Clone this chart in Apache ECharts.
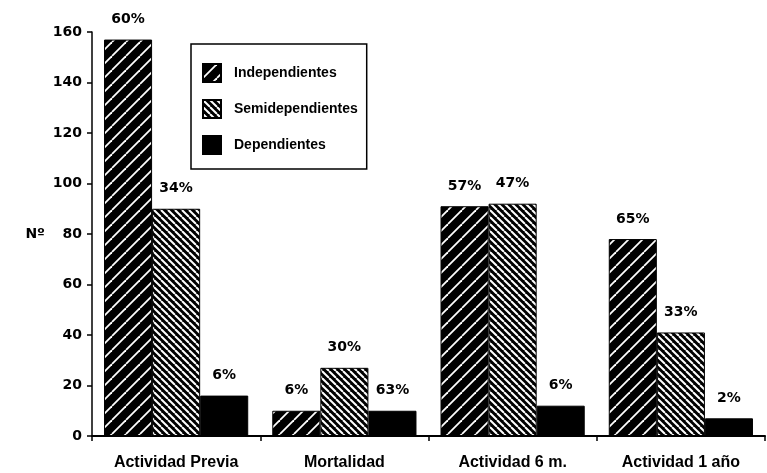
<!DOCTYPE html>
<html>
<head>
<meta charset="utf-8">
<script src="https://cdn.jsdelivr.net/npm/echarts@6/dist/echarts.min.js"></script>
<style>
html,body{margin:0;padding:0;background:#fff;}
#chart{width:767px;height:473px;}
</style>
</head>
<body>
<div id="chart"></div>
<script>
// ---- data ----
const categories = ['Actividad Previa', 'Mortalidad', 'Actividad 6 m.', 'Actividad 1 año'];
const seriesNames = ['Independientes', 'Semidependientes', 'Dependientes'];
const independientes = [157, 10, 91, 78];
const semidependientes = [90, 27, 92, 41];
const dependientes = [16, 10, 12, 7];
const labelsIndep = ['60%', '6%', '57%', '65%'];
const labelsSemi = ['34%', '30%', '47%', '33%'];
const labelsDep = ['6%', '63%', '6%', '2%'];
const yTicks = [0, 20, 40, 60, 80, 100, 120, 140, 160];

// ---- patterns ----
function stripes(p, lw, dir) {
  const c = document.createElement('canvas');
  c.width = p; c.height = p;
  const g = c.getContext('2d');
  g.fillStyle = '#000'; g.fillRect(0, 0, p, p);
  g.strokeStyle = '#fff'; g.lineWidth = lw;
  for (const o of [-p, 0, p]) {
    g.beginPath();
    if (dir > 0) { g.moveTo(o, p); g.lineTo(o + p, 0); }
    else { g.moveTo(o, 0); g.lineTo(o + p, p); }
    g.stroke();
  }
  return c;
}
const patIndep = { image: stripes(14, 1.8, 1), repeat: 'repeat' };
const patSemi = { image: stripes(7, 2, -1), repeat: 'repeat' };

const numFont = 'DejaVu Sans';
const txtFont = 'Liberation Sans';

function makeSeries(name, values, labels, color) {
  return {
    name: name,
    type: 'bar',
    data: values,
    barGap: '0%',
    barCategoryGap: '14.3%',
    itemStyle: { color: color, borderColor: '#000', borderWidth: 1 },
    label: {
      show: true,
      position: 'top',
      distance: 13,
      color: '#000',
      fontFamily: numFont,
      fontWeight: 'bold',
      fontSize: 14,
      formatter: p => labels[p.dataIndex]
    }
  };
}

const chart = echarts.init(document.getElementById('chart'), null, { renderer: 'canvas' });
chart.setOption({
  animation: false,
  backgroundColor: '#fff',
  grid: { left: 92, right: 2, top: 32, bottom: 37, containLabel: false },
  legend: {
    orient: 'vertical',
    left: 191,
    top: 44,
    data: seriesNames,
    itemWidth: 18,
    itemHeight: 18,
    itemGap: 16,
    padding: [19, 9, 14, 11],
    borderColor: '#000',
    borderWidth: 1.5,
    icon: 'rect',
    textStyle: { fontFamily: txtFont, fontWeight: 'bold', fontSize: 14, color: '#000', padding: [0, 0, 0, 8] }
  },
  xAxis: {
    type: 'category',
    data: categories,
    axisLine: { lineStyle: { color: '#000', width: 2 } },
    axisTick: { show: true, length: 5, lineStyle: { color: '#000', width: 1.5 } },
    axisLabel: { margin: 19, color: '#000', fontFamily: txtFont, fontWeight: 'bold', fontSize: 16 }
  },
  yAxis: {
    type: 'value',
    min: yTicks[0],
    max: yTicks[yTicks.length - 1],
    interval: yTicks[1] - yTicks[0],
    name: 'Nº',
    nameLocation: 'middle',
    nameRotate: 0,
    nameGap: 47,
    nameTextStyle: { fontFamily: numFont, fontWeight: 'bold', fontSize: 14, color: '#000' },
    axisLine: { show: true, lineStyle: { color: '#000', width: 1.5 } },
    axisTick: { show: true, length: 5, lineStyle: { color: '#000', width: 1.5 } },
    splitLine: { show: false },
    axisLabel: { margin: 10, color: '#000', fontFamily: numFont, fontWeight: 'bold', fontSize: 14 }
  },
  series: [
    makeSeries(seriesNames[0], independientes, labelsIndep, patIndep),
    makeSeries(seriesNames[1], semidependientes, labelsSemi, patSemi),
    makeSeries(seriesNames[2], dependientes, labelsDep, '#000')
  ]
});
</script>
</body>
</html>
